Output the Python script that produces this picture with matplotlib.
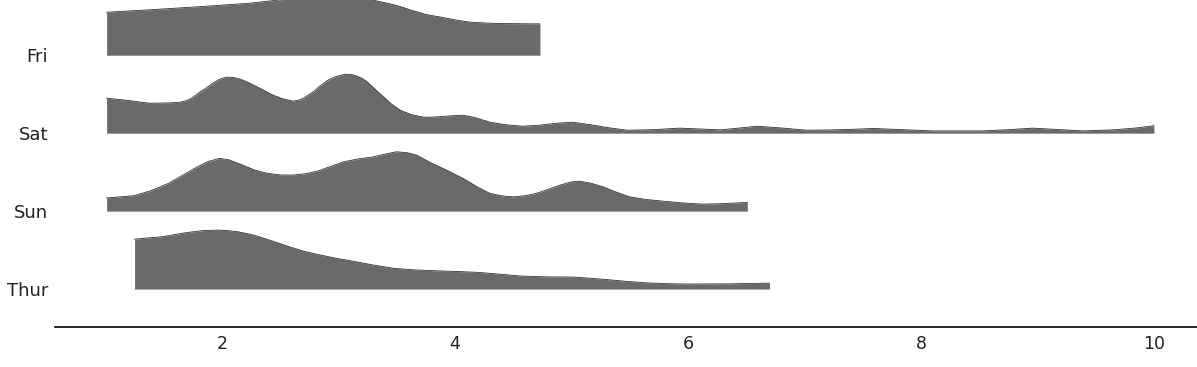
import numpy as np
import matplotlib
matplotlib.use('Agg')
import matplotlib.pyplot as plt

# ---------------------------------------------------------------------------
# Datos: densidad estimada de propinas por día
# ---------------------------------------------------------------------------

days = ['Fri', 'Sat', 'Sun', 'Thur']

fri_x = [1.01, 1.38, 1.81, 2.24, 2.47, 2.67, 2.88, 3.10, 3.30, 3.37, 3.44,
         3.53, 3.61, 3.68, 3.74, 3.80, 3.87, 3.94, 4.00, 4.07, 4.13, 4.26,
         4.39, 4.73]
fri_d = [0.247, 0.261, 0.279, 0.299, 0.316, 0.333, 0.345, 0.339, 0.316,
         0.306, 0.296, 0.280, 0.262, 0.248, 0.236, 0.228, 0.220, 0.211,
         0.203, 0.196, 0.190, 0.185, 0.182, 0.180]

sat_x = [1.01, 1.17, 1.38, 1.55, 1.64, 1.70, 1.74, 1.81, 1.87, 1.92, 1.98,
         2.04, 2.10, 2.16, 2.24, 2.34, 2.44, 2.52, 2.61, 2.66, 2.70, 2.78,
         2.84, 2.91, 2.98, 3.06, 3.12, 3.16, 3.21, 3.25, 3.31, 3.38, 3.45,
         3.53, 3.62, 3.73, 3.80, 3.87, 3.97, 4.07, 4.17, 4.30, 4.44, 4.58,
         4.73, 4.87, 5.01, 5.15, 5.31, 5.48, 5.70, 5.93, 6.10, 6.28, 6.45,
         6.59, 6.80, 7.02, 7.25, 7.45, 7.59, 7.85, 8.10, 8.53, 8.75, 8.96,
         9.15, 9.39, 9.65, 9.85, 10.0]
sat_d = [0.201, 0.190, 0.172, 0.174, 0.178, 0.188, 0.201, 0.236, 0.262,
         0.287, 0.310, 0.322, 0.320, 0.310, 0.287, 0.253, 0.218, 0.198,
         0.184, 0.190, 0.201, 0.236, 0.270, 0.305, 0.326, 0.339, 0.336,
         0.328, 0.312, 0.293, 0.255, 0.213, 0.170, 0.132, 0.108, 0.092,
         0.092, 0.095, 0.100, 0.103, 0.090, 0.063, 0.048, 0.040, 0.046,
         0.057, 0.063, 0.050, 0.032, 0.017, 0.020, 0.029, 0.024, 0.019,
         0.030, 0.040, 0.030, 0.017, 0.019, 0.023, 0.027, 0.020, 0.013,
         0.013, 0.020, 0.029, 0.022, 0.013, 0.019, 0.030, 0.043]

sun_x = [1.01, 1.24, 1.38, 1.54, 1.66, 1.79, 1.88, 1.98, 2.06, 2.18, 2.28,
         2.39, 2.50, 2.61, 2.72, 2.82, 2.93, 3.04, 3.17, 3.30, 3.40, 3.50,
         3.59, 3.67, 3.79, 3.93, 4.07, 4.19, 4.30, 4.40, 4.50, 4.60, 4.70,
         4.80, 4.90, 5.00, 5.07, 5.17, 5.27, 5.39, 5.50, 5.64, 5.79, 5.96,
         6.13, 6.30, 6.51]
sun_d = [0.076, 0.088, 0.115, 0.159, 0.205, 0.255, 0.285, 0.303, 0.295,
         0.264, 0.236, 0.217, 0.208, 0.207, 0.215, 0.230, 0.256, 0.283,
         0.300, 0.312, 0.328, 0.341, 0.336, 0.322, 0.279, 0.235, 0.188,
         0.140, 0.102, 0.088, 0.082, 0.088, 0.102, 0.125, 0.149, 0.168,
         0.172, 0.160, 0.140, 0.108, 0.082, 0.067, 0.057, 0.047, 0.040,
         0.043, 0.050]

thu_x = [1.25, 1.49, 1.60, 1.71, 1.84, 1.96, 2.05, 2.14, 2.23, 2.32, 2.45,
         2.58, 2.70, 2.82, 2.98, 3.15, 3.31, 3.48, 3.66, 3.84, 4.02, 4.20,
         4.38, 4.56, 4.80, 5.02, 5.15, 5.28, 5.46, 5.64, 5.82, 6.00, 6.36,
         6.70]
thu_d = [0.287, 0.301, 0.314, 0.326, 0.336, 0.339, 0.336, 0.329, 0.317,
         0.301, 0.272, 0.243, 0.218, 0.199, 0.177, 0.157, 0.137, 0.119,
         0.110, 0.105, 0.101, 0.096, 0.086, 0.075, 0.070, 0.069, 0.063,
         0.056, 0.045, 0.036, 0.031, 0.029, 0.030, 0.034]

xticks = [2, 4, 6, 8, 10]

series = [(fri_x, fri_d), (sat_x, sat_d), (sun_x, sun_d), (thu_x, thu_d)]

# ---------------------------------------------------------------------------
# Figura
# ---------------------------------------------------------------------------

W, H = 1197, 367
fig = plt.figure(figsize=(W / 100, H / 100), dpi=100)
ax = fig.add_axes([55 / W, 40 / H, 1 - 55 / W, 327 / H])

BASE = 0.218      # separación eje -> última cresta
STEP = 0.448      # separación entre crestas
FILL = '#6a6a6a'

baselines = []
for i, (xs, ds) in enumerate(series):
    y0 = BASE + (len(series) - 1 - i) * STEP
    baselines.append(y0)
    xs = np.asarray(xs)
    top = y0 + np.asarray(ds)
    ax.fill_between(xs, y0, top, color=FILL, lw=0, zorder=i + 1)
    ax.plot(xs, top, color='#333333', lw=0.6, zorder=i + 1,
            solid_joinstyle='round')

ax.set_xlim(0.567, 10.37)
ax.set_ylim(0, 327 / 174)

ax.set_yticks(baselines)
ax.set_yticklabels(days, fontsize=13)
ax.set_xticks(xticks)
ax.set_xticklabels([str(t) for t in xticks], fontsize=12.5)
ax.tick_params(axis='y', length=0, pad=4.8, colors='#222222')
ax.tick_params(axis='x', length=0, pad=5.5, colors='#222222')

for s in ['top', 'right', 'left']:
    ax.spines[s].set_visible(False)
ax.spines['bottom'].set_linewidth(1.2)

fig.savefig('out.png', dpi=100)
